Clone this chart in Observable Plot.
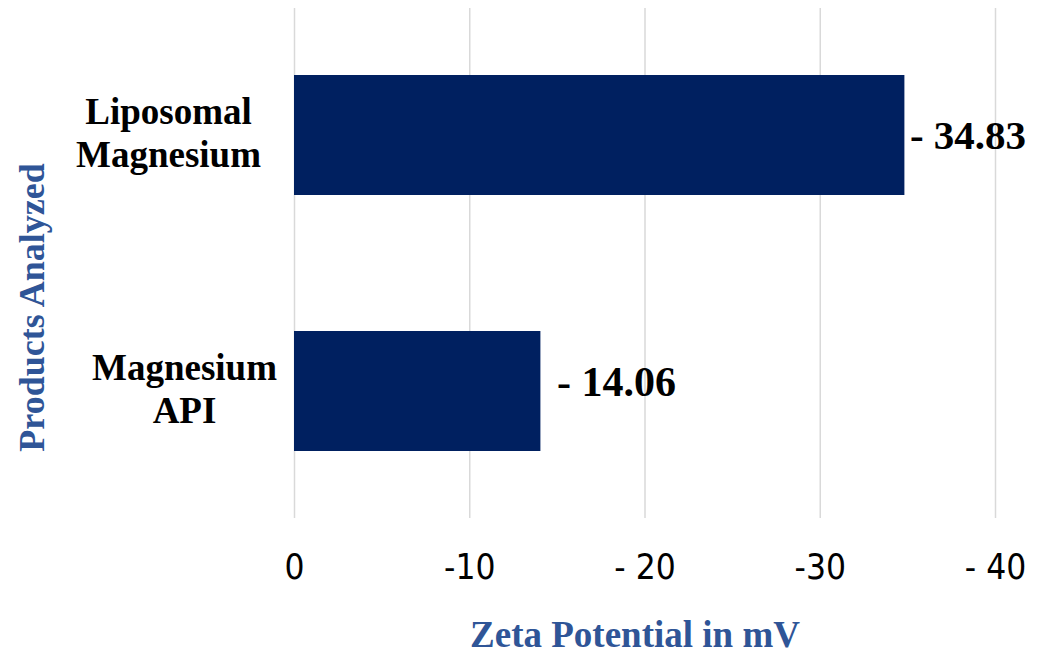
<!DOCTYPE html>
<html>
<head>
<meta charset="utf-8">
<script src="https://cdn.jsdelivr.net/npm/d3@7"></script>
<script src="https://cdn.jsdelivr.net/npm/@observablehq/plot@0.6"></script>
<style>
  html, body { margin: 0; padding: 0; background: #ffffff; }
  #chart { width: 1043px; height: 654px; }
</style>
</head>
<body>
<div id="chart"></div>
<script>
const categories = ["Liposomal Magnesium", "Magnesium API"];
const categoryLines = ["Liposomal\nMagnesium", "Magnesium\nAPI"];
const values = [-34.83, -14.06];
const valueLabels = ["- 34.83", "- 14.06"];
const tickValues = [0, -10, -20, -30, -40];
const tickLabels = ["0", "-10", "- 20", "-30", "- 40"];
const xTitle = "Zeta Potential in mV";
const yTitle = "Products Analyzed";

const data = categories.map((c, i) => ({
  category: c, lines: categoryLines[i], value: values[i], label: valueLabels[i]
}));

const serif = "'Liberation Serif', 'Times New Roman', Times, serif";
const narrow = "'Liberation Sans Narrow', 'DejaVu Sans Condensed', 'Arial Narrow', sans-serif";
const titleBlue = "#2f5597";

const chart = Plot.plot({
  width: 1043,
  height: 654,
  marginLeft: 294,
  marginRight: 48,
  marginTop: 8,
  marginBottom: 136,
  style: { background: "#ffffff", overflow: "visible" },
  x: { domain: [0, -40], axis: null },
  y: { domain: categories, axis: null, paddingInner: 0.53, paddingOuter: 0.26 },
  marks: [
    Plot.gridX(tickValues, { stroke: "#d9d9d9", strokeOpacity: 1, strokeWidth: 1.5 }),
    Plot.barX(data, { x: "value", y: "category", fill: "#002060" }),
    Plot.axisX(tickValues, {
      label: null, tickSize: 0, tickPadding: 36,
      tickFormat: (d) => tickLabels[tickValues.indexOf(d)],
      fontSize: 35, fontFamily: narrow, fontStretch: "condensed", fill: "#000000"
    }),
    // value labels
    Plot.text(data.filter((d, i) => i === 0), {
      x: "value", y: "category", text: "label", textAnchor: "start", dx: 5, dy: 0,
      fontSize: 41, fontWeight: "bold", fontFamily: serif, fill: "#000000"
    }),
    Plot.text(data.filter((d, i) => i === 1), {
      x: "value", y: "category", text: "label", textAnchor: "start", dx: 16, dy: -9,
      fontSize: 42, fontWeight: "bold", fontFamily: serif, fill: "#000000"
    }),
    // category labels
    Plot.text(data.filter((d, i) => i === 0), {
      y: "category", text: "lines", frameAnchor: "left", textAnchor: "middle",
      dx: -126, dy: -4, lineHeight: 1.16,
      fontSize: 37, fontWeight: "bold", fontFamily: serif, fill: "#000000"
    }),
    Plot.text(data.filter((d, i) => i === 1), {
      y: "category", text: "lines", frameAnchor: "left", textAnchor: "middle",
      dx: -110, dy: -4, lineHeight: 1.16,
      fontSize: 37, fontWeight: "bold", fontFamily: serif, fill: "#000000"
    }),
    // axis titles
    Plot.text([xTitle], {
      text: (d) => d, frameAnchor: "bottom", lineAnchor: "middle", dx: -10, dy: 117,
      fontSize: 37, fontWeight: "bold", fontFamily: serif, fill: titleBlue
    }),
    Plot.text([yTitle], {
      text: (d) => d, frameAnchor: "left", textAnchor: "middle", rotate: -90, lineAnchor: "middle",
      dx: -262, dy: 44,
      fontSize: 36, fontWeight: "bold", fontFamily: serif, fill: titleBlue
    })
  ]
});
document.getElementById("chart").appendChild(chart);
</script>
</body>
</html>
